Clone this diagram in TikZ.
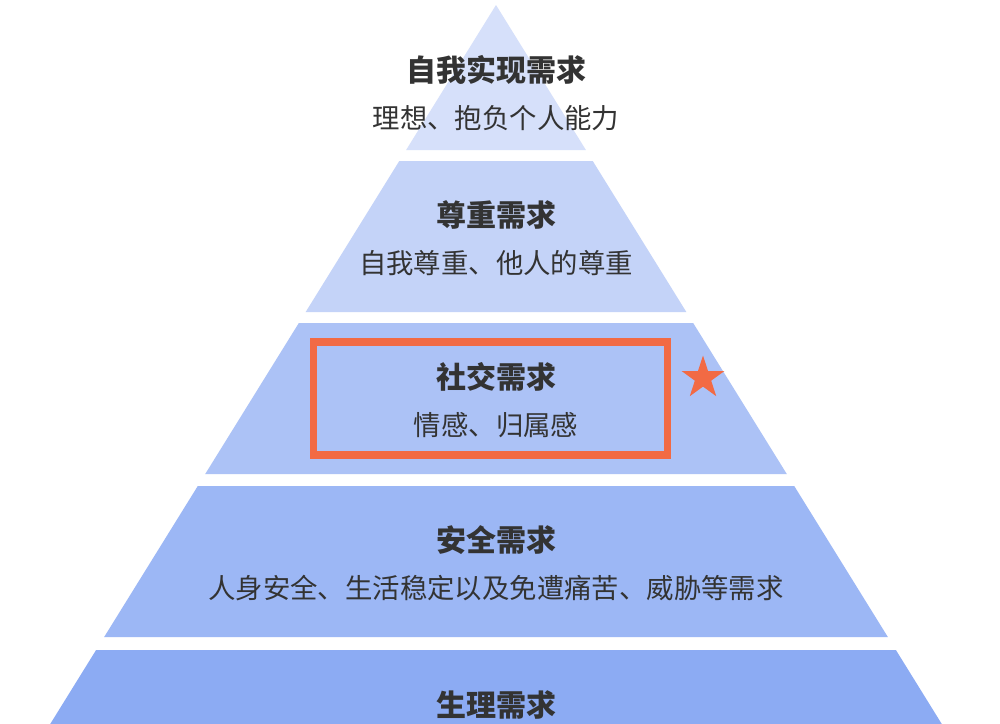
\documentclass[tikz,border=0pt]{standalone}
\usepackage{fontspec}
\setmainfont{Noto Sans CJK SC}
\newfontfamily\cjk{Noto Sans CJK SC}
\usetikzlibrary{shapes.geometric}
\definecolor{lA}{RGB}{214,224,250}
\definecolor{lB}{RGB}{196,211,248}
\definecolor{lC}{RGB}{172,194,246}
\definecolor{lD}{RGB}{156,183,245}
\definecolor{lE}{RGB}{140,171,243}
\definecolor{hot}{RGB}{242,106,68}
\definecolor{ink}{RGB}{51,51,51}
\tikzset{
  title/.style={font=\cjk\bfseries\fontsize{30}{32}\selectfont, text=ink, inner sep=0pt},
  sub/.style={font=\cjk\fontsize{27.4}{29}\selectfont, text=ink, inner sep=0pt},
}
\newcommand{\pyrlayer}[3]{%
  \fill[#3] ({496-0.62*(#1-5)},#1) -- ({496+0.62*(#1-5)},#1) -- ({496+0.62*(#2-5)},#2) -- ({496-0.62*(#2-5)},#2) -- cycle;}
\begin{document}
\begin{tikzpicture}[x=1pt,y=-1pt]
\useasboundingbox[fill=white] (0,0) rectangle (1000,723);
\fill[lA] (496,5) -- ({496+0.62*145},150) -- ({496-0.62*145},150) -- cycle;
\pyrlayer{161}{312}{lB}
\pyrlayer{323}{474}{lC}
\pyrlayer{486}{637}{lD}
\pyrlayer{650}{740}{lE}
\node[title] (t1) at (496,70) {自我实现需求};
\node[sub] (s1) at (496,118) {理想、抱负个人能力};
\node[title] (t2) at (496,215) {尊重需求};
\node[sub] (s2) at (496,263) {自我尊重、他人的尊重};
\node[title] (t3) at (496,377) {社交需求};
\node[sub] (s3) at (496,425) {情感、归属感};
\node[title] (t4) at (496,540) {安全需求};
\node[sub] (s4) at (496,588) {人身安全、生活稳定以及免遭痛苦、威胁等需求};
\node[title] (t5) at (496,705) {生理需求};
\node[draw=hot, line width=7.5pt, minimum width=354pt, minimum height=113pt, inner sep=0pt] (box) at (490.5,398.5) {};
\node[star, star points=5, star point ratio=2.618, fill=hot, minimum size=45pt, inner sep=0pt] (st) at (703,378) {};
\end{tikzpicture}
\end{document}
